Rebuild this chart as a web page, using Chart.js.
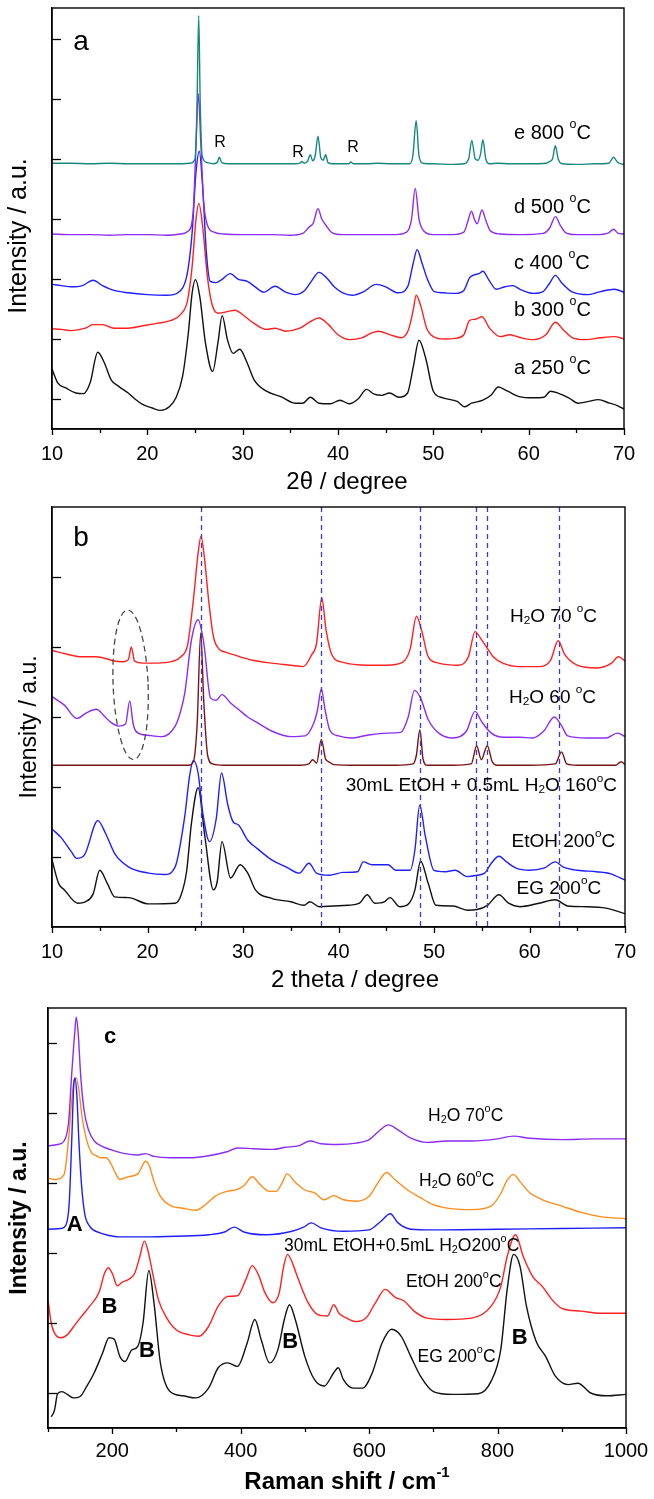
<!DOCTYPE html>
<html><head><meta charset="utf-8">
<script src="https://cdn.jsdelivr.net/npm/chart.js@4.4.1/dist/chart.umd.min.js"></script>
<style>
html,body{margin:0;padding:0;background:#fff;width:654px;height:1499px;overflow:hidden;position:relative}
canvas{position:absolute;left:0;display:block}
</style></head><body>
<canvas id="ca" width="654" height="500" style="top:0;width:654px;height:500px"></canvas>
<canvas id="cb" width="654" height="500" style="top:500px;width:654px;height:500px"></canvas>
<canvas id="cc" width="654" height="499" style="top:1000px;width:654px;height:499px"></canvas>
<script>
// ---------------- Panel a : XRD vs annealing temperature ----------------
const aTickX = [10, 20, 30, 40, 50, 60, 70];
const aTickY = [0, 1, 2, 3, 4, 5, 6];
const aNames = ['e 800 ^oC', 'd 500 ^oC', 'c 400 ^oC', 'b 300 ^oC', 'a 250 ^oC'];

const aX_e = [10,12,14,16,18,20,22,23.5,24.5,25.0,25.2,25.39,25.55,25.75,26.3,27.0,27.35,27.56,27.8,28.5,30,32,34,35.5,36.0,36.2,36.45,36.8,37.1,37.35,37.6,37.9,38.2,38.45,38.7,38.95,39.4,40.5,41.1,41.36,41.6,43,44.2,45.5,46.5,47.5,47.85,48.2,48.5,48.9,50,52,53.2,53.7,54.03,54.4,54.7,54.95,55.2,55.5,55.9,56.8,58,60,61.8,62.2,62.5,62.8,63.1,63.5,65,67,68.4,68.9,69.3,69.7,70];
const aY_e = [3.93,3.93,3.92,3.93,3.92,3.92,3.92,3.92,3.93,4.0,4.8,6.39,4.9,4.05,3.94,3.92,3.95,4.03,3.94,3.92,3.92,3.92,3.92,3.92,3.93,3.96,3.93,3.96,4.07,3.97,4.05,4.38,4.02,3.98,4.07,3.94,3.92,3.92,3.92,3.95,3.92,3.92,3.93,3.92,3.92,3.92,4.05,4.64,4.05,3.93,3.92,3.91,3.92,4.0,4.31,4.0,3.98,4.08,4.32,4.0,3.92,3.93,3.92,3.92,3.93,3.96,4.0,4.22,4.0,3.92,3.91,3.92,3.93,4.03,3.95,3.92,3.91];

const aX_d = [10,12,14,16,18,20,22,23.5,24.3,24.8,25.1,25.35,25.6,25.9,26.3,27,28,30,33,35,36.3,37.0,37.4,37.9,38.3,38.8,39.4,40.5,43,46,47.2,47.7,48.1,48.5,49,50,52,53.2,53.6,54.0,54.3,54.6,55.1,55.5,56,57,59,61.5,62.2,62.8,63.3,63.9,65,67,68.4,68.9,69.4,70];
const aY_d = [2.75,2.74,2.74,2.73,2.74,2.74,2.73,2.75,2.8,3.1,4.2,5.09,4.3,3.3,2.9,2.78,2.75,2.74,2.74,2.73,2.76,2.87,2.93,3.17,3.0,2.88,2.77,2.74,2.74,2.74,2.78,2.98,3.51,3.0,2.8,2.74,2.74,2.78,2.95,3.13,3.0,2.92,3.15,2.98,2.8,2.75,2.74,2.76,2.85,3.04,2.9,2.77,2.74,2.74,2.77,2.83,2.76,2.75];

const aX_c = [10,11,12,13.2,14.3,15.3,16.5,18,20,22,23.5,24.2,24.7,25.1,25.45,25.8,26.2,26.6,27.2,27.8,28.7,29.5,30.5,31.3,32.2,33.4,34.5,35.5,36.5,37.2,38.0,38.8,39.6,40.5,41.5,42.7,44.0,45.0,46.3,47.3,47.9,48.3,48.8,49.4,50.1,51,52.2,53.2,53.8,54.3,54.8,55.2,55.8,56.6,57.5,58.3,59.2,60.5,61.5,62.2,62.8,63.5,64.5,66.3,67.5,69,70];
const aY_c = [1.91,1.89,1.87,1.89,1.98,1.89,1.81,1.77,1.74,1.73,1.81,2.1,2.77,3.77,4.13,3.54,2.43,1.96,1.94,1.99,2.09,2.0,1.96,1.87,1.78,1.88,1.78,1.74,1.81,1.96,2.11,2.02,1.87,1.77,1.73,1.79,1.91,1.87,1.77,1.87,2.27,2.49,2.27,1.99,1.79,1.77,1.76,1.81,2.02,2.07,2.09,2.13,1.99,1.83,1.87,1.89,1.82,1.76,1.79,1.93,2.06,1.93,1.79,1.74,1.79,1.83,1.78];

const aX_b = [10,11,12,13.5,14.3,15.3,16.5,18,19.5,21,22.5,23.5,24.2,24.7,25.1,25.4,25.8,26.3,26.8,27.5,28.5,29.2,30.2,31.2,32.5,33.4,34.5,36,37.1,38.0,39,40,41.2,42.5,43.5,44.2,45.5,46.6,47.4,47.9,48.2,48.7,49.3,50,51.2,52.3,53.2,53.8,54.4,55.1,55.9,57,58,59.2,60.5,61.8,62.8,63.6,64.6,66,67.5,69,70];
const aY_b = [1.17,1.16,1.14,1.18,1.24,1.24,1.18,1.18,1.22,1.26,1.31,1.41,1.63,2.21,2.99,3.26,2.88,2.04,1.57,1.43,1.46,1.48,1.38,1.26,1.16,1.18,1.13,1.18,1.29,1.35,1.24,1.07,0.99,1.02,1.1,1.13,1.07,1.02,1.16,1.49,1.73,1.54,1.18,1.04,1.0,1.01,1.07,1.31,1.33,1.37,1.18,1.04,1.07,1.02,0.99,1.07,1.28,1.16,1.02,0.99,1.02,1.04,1.0];

const aX_a = [10,10.6,11.5,12.5,13.3,14,14.8,15.5,16.2,17,18,18.7,19.5,20.5,21.4,22.3,23,23.7,24.3,24.7,25.05,25.5,26.1,26.85,27.4,27.85,28.4,29.0,29.7,30.4,31.2,32.5,34,35.5,36.3,37.1,38,39.2,40.2,41.2,42.1,43.0,43.8,44.6,45.4,46.4,47.3,47.9,48.5,49.2,50,51,52.5,53.3,54,55.2,56.1,56.8,57.8,59,60.5,61.6,62.3,63.2,64.2,65.2,66.3,67.3,68.5,69.3,70];
const aY_a = [0.5,0.27,0.18,0.1,0.09,0.27,0.78,0.6,0.32,0.21,0.1,0,-0.09,-0.15,-0.19,-0.13,0.02,0.38,1.1,1.77,1.99,1.71,0.93,0.46,0.93,1.39,0.99,0.76,0.83,0.63,0.32,0.13,0.04,-0.07,-0.07,0.03,-0.07,-0.08,-0.02,-0.08,0,0.16,0.08,0.06,0.1,0.03,0.1,0.54,0.98,0.68,0.13,0.02,-0.04,-0.13,-0.07,-0.02,0.07,0.2,0.13,0.04,0.02,0.03,0.13,0.09,0.02,-0.07,-0.04,-0.01,-0.07,-0.11,-0.17];

// ---------------- Panel b : XRD vs synthesis solvent ----------------
const bTickX = [10, 20, 30, 40, 50, 60, 70];
const bTickY = [1, 2, 3, 4, 5];
const bRefLines = [25.65, 38.15, 48.5, 54.44, 55.58, 63.05];
const bNames = ['H_2O 70 ^oC', 'H_2O 60 ^oC', '30mL EtOH + 0.5mL H_2O 160^oC', 'EtOH 200^oC', 'EG 200^oC'];

const bX_w70 = [10,11.5,13,14.5,15.5,16.5,17.5,18.0,18.3,18.65,19.5,21,22.5,23.5,24.2,24.8,25.3,25.6,25.95,26.4,26.9,27.5,28.1,29,31,33,35,36.3,37.2,37.7,38.25,38.7,39.3,40.5,43,45,46.7,47.5,48.17,48.7,49.4,50.5,52.5,53.6,54.3,54.9,55.5,56.2,57.2,59,61,62.2,63.0,63.7,65,67,68.6,69.3,70];
const bY_w70 = [3.95,3.9,3.86,3.86,3.84,3.8,3.79,3.82,4.0,3.8,3.77,3.77,3.79,3.86,4.03,4.67,5.34,5.58,5.29,4.67,4.15,3.97,3.93,3.89,3.81,3.77,3.74,3.72,3.89,4.05,4.7,4.24,3.89,3.78,3.74,3.74,3.78,3.97,4.44,4.24,3.86,3.77,3.74,3.86,4.22,4.12,4.0,3.86,3.77,3.72,3.72,3.81,4.09,3.89,3.74,3.7,3.77,3.86,3.8];

const bX_w60 = [10,11.3,12.6,13.6,14.65,15.5,16.1,17.0,17.7,18.14,18.5,18.9,20,21.5,22.9,23.4,23.9,24.6,25.3,25.9,26.6,27.2,27.8,28.7,29.6,30.5,31.5,33,35,36.5,37.4,37.8,38.2,38.6,39.1,40,41.3,43,45,46.5,47.3,47.95,48.6,49.4,50.5,52,53.4,54.3,55.0,56,57.3,59,60.3,61.5,62.6,63.3,64,66,68,69.2,70];
const bY_w60 = [3.29,3.17,2.98,3.06,3.11,3.01,2.93,2.87,2.9,3.23,2.9,2.78,2.74,2.72,2.87,3.05,3.34,4.1,4.39,4.05,3.27,3.24,3.32,3.2,3.1,3.0,2.92,2.8,2.72,2.73,2.91,3.1,3.4,3.1,2.81,2.73,2.7,2.74,2.77,2.78,3.0,3.38,3.27,2.96,2.77,2.7,2.8,3.08,2.93,2.77,2.71,2.71,2.7,2.8,3.0,2.89,2.73,2.7,2.7,2.77,2.72];

const bX_mix = [10,14,18,22,24.3,24.8,25.2,25.57,25.9,26.3,26.8,28,32,36,36.9,37.3,37.7,38.2,38.65,39.0,39.5,42,46,47.8,48.15,48.52,48.85,49.3,52,53.9,54.47,54.95,55.58,56.1,56.6,60,62.7,63.35,63.9,65,69,69.6,70];
const bY_mix = [2.31,2.31,2.31,2.31,2.31,2.36,2.9,4.2,3.2,2.45,2.33,2.31,2.31,2.31,2.33,2.39,2.34,2.68,2.4,2.36,2.32,2.31,2.31,2.33,2.45,2.82,2.4,2.31,2.31,2.33,2.59,2.39,2.59,2.36,2.31,2.31,2.33,2.5,2.33,2.31,2.31,2.36,2.32];

const bX_et = [10,11,12,12.6,13.4,14.8,15.6,16.6,18.0,20.1,21.8,22.9,23.9,24.4,24.8,25.3,25.8,26.5,27.2,27.75,28.4,28.97,29.5,30.5,31.5,33,34.5,35.9,36.9,37.7,39,40.5,42,42.6,43.5,45.2,46,47.5,48,48.5,49.1,50,51.2,52.2,53.5,54.5,55.3,56,56.8,57.6,58.6,60,61.5,62.7,63.5,65,67,68.5,70];
const bY_et = [1.40,1.27,1.08,0.98,1.03,1.52,1.34,1.04,0.86,0.77,0.75,0.86,1.58,2.15,2.38,2.2,1.62,1.22,1.55,2.2,1.75,1.5,1.46,1.24,1.12,0.96,0.86,0.77,0.91,0.77,0.74,0.78,0.79,0.93,0.89,0.89,0.81,0.81,1.1,1.74,1.29,0.81,0.79,0.81,0.72,0.74,0.77,0.91,1.01,0.93,0.84,0.81,0.84,0.93,0.86,0.81,0.79,0.76,0.67];

const bX_eg = [10,10.7,11.3,12.7,13.5,14.3,15.0,15.8,16.57,18,20.1,22.9,23.5,24.1,24.6,25.3,26,26.9,27.3,27.8,28.7,29.7,30.5,31.3,33,35,36.4,37.0,38,39.5,41,42.2,43.0,43.8,44.8,45.4,46.4,47.4,48,48.6,49.4,50.2,52,53.5,54.5,55.6,56.8,57.8,59,61,62.7,64,66,68,70];
const bY_eg = [0.96,0.62,0.53,0.34,0.36,0.47,0.81,0.62,0.43,0.42,0.33,0.34,0.45,0.8,1.48,1.99,1.3,0.53,0.65,1.22,0.7,0.89,0.77,0.53,0.41,0.36,0.31,0.36,0.29,0.3,0.31,0.34,0.46,0.34,0.36,0.42,0.29,0.34,0.53,0.94,0.62,0.31,0.3,0.24,0.25,0.31,0.46,0.34,0.29,0.34,0.39,0.3,0.29,0.27,0.19];

// ---------------- Panel c : Raman ----------------
const cTickX = [200, 400, 600, 800, 1000];
const cTickY = [0, 1, 2, 3, 4, 5];
const cNames = ['H_2O 70^oC', 'H_2O 60^oC', '30mL EtOH+0.5mL H_2O200^oC', 'EtOH 200^oC', 'EG 200^oC'];

const cX_w70 = [100,115,125,132,137,142,144,147,151,156,163,172,185,200,220,240,252,265,290,320,350,380,395,420,450,470,490,508,525,550,580,600,615,630,645,665,690,720,760,800,825,850,900,950,1000];
const cY_w70 = [3.53,3.55,3.6,3.86,4.57,5.19,5.37,5.14,4.52,4.05,3.76,3.6,3.52,3.47,3.42,3.4,3.42,3.38,3.36,3.36,3.39,3.45,3.5,3.49,3.48,3.51,3.53,3.6,3.56,3.55,3.57,3.62,3.74,3.83,3.76,3.64,3.58,3.6,3.6,3.63,3.67,3.64,3.62,3.63,3.63];

const cX_w60 = [100,110,125,132,137,141,144,148,153,160,168,175,182,190,196,205,212,225,240,252,258,265,275,290,310,330,345,360,378,395,405,418,430,445,455,465,472,485,500,515,530,545,560,580,600,615,627,640,660,680,700,730,760,790,805,815,825,835,850,870,900,930,960,1000];
const cY_w60 = [3.07,3.05,3.12,3.62,4.19,4.48,4.5,4.33,3.95,3.62,3.43,3.39,3.36,3.36,3.31,3.14,3.05,3.09,3.13,3.31,3.24,3.02,2.81,2.68,2.64,2.61,2.69,2.81,2.88,2.91,2.96,3.09,2.98,2.88,2.88,3.01,3.13,3.01,2.9,2.86,2.76,2.82,2.76,2.74,2.81,3.02,3.15,3.05,2.9,2.79,2.69,2.63,2.62,2.67,2.85,3.04,3.12,3.02,2.86,2.76,2.67,2.58,2.52,2.49];

const cX_mix = [100,120,128,133,137,140,142,145,148,152,157,165,180,195,210,250,300,350,375,390,405,440,480,498,510,525,560,600,618,633,645,665,700,800,900,1000];
const cY_mix = [2.34,2.35,2.4,2.71,3.62,4.38,4.5,4.24,3.62,3.0,2.57,2.38,2.29,2.25,2.23,2.23,2.24,2.26,2.3,2.37,2.3,2.26,2.31,2.37,2.43,2.36,2.31,2.33,2.45,2.56,2.43,2.34,2.33,2.34,2.35,2.36];

const cX_et = [100,105,110,120,130,140,150,165,180,188,194,200,208,215,225,235,243,250,256,263,272,285,300,320,335,350,365,380,395,408,418,428,438,450,460,467,473,480,490,505,520,535,545,553,565,580,595,610,625,640,655,670,690,720,760,790,805,815,828,840,855,870,885,900,930,960,1000];
const cY_et = [1.33,1.0,0.86,0.79,0.83,0.95,1.07,1.24,1.45,1.71,1.79,1.71,1.53,1.58,1.62,1.71,1.95,2.17,2.02,1.71,1.33,1.07,0.9,0.83,0.81,0.95,1.24,1.38,1.39,1.62,1.82,1.68,1.43,1.29,1.43,1.81,1.98,1.87,1.62,1.29,1.12,1.1,1.26,1.14,1.07,1.02,1.07,1.29,1.48,1.37,1.31,1.17,1.07,1.05,1.07,1.24,1.52,1.95,2.26,1.95,1.66,1.52,1.33,1.21,1.17,1.14,1.14];

const cX_eg = [105,110,115,122,130,140,150,160,172,185,195,203,212,220,230,240,248,257,265,275,290,310,330,350,365,380,395,410,422,432,445,458,468,476,485,500,515,530,545,552,560,575,590,605,620,635,650,665,680,700,730,770,790,805,815,825,835,845,860,875,890,910,925,945,970,1000];
const cY_eg = [-0.34,-0.25,-0.01,0.02,-0.02,-0.07,-0.05,0.09,0.29,0.57,0.79,0.77,0.52,0.45,0.61,0.67,1.0,1.75,1.29,0.43,0.02,-0.04,-0.07,0.07,0.36,0.43,0.38,0.71,1.05,0.76,0.43,0.62,1.05,1.26,1.05,0.52,0.19,0.1,0.29,0.36,0.19,0.07,0.07,0.29,0.71,0.91,0.81,0.52,0.24,0.02,-0.02,-0.01,0.17,0.62,1.48,1.98,1.81,1.24,0.74,0.52,0.24,0.12,0.14,0,-0.04,-0.02];

// ---------------- helpers ----------------
const FAM = "'Liberation Sans', Arial, Helvetica, sans-serif";
const pts = (xs, ys) => xs.map((x, i) => ({ x: x, y: ys[i] }));
function ds(xs, ys, color) {
  return { data: pts(xs, ys), borderColor: color, borderWidth: 1.4, pointRadius: 0,
    fill: false, cubicInterpolationMode: 'monotone', spanGaps: true };
}
function parseRich(s) {
  const out = []; let i = 0;
  while (i < s.length) {
    const c = s[i];
    if ((c === '_' || c === '^') && i + 1 < s.length) {
      const k = c === '_' ? 'sub' : 'sup';
      if (s[i + 1] === '{') { const j = s.indexOf('}', i); out.push({ t: s.slice(i + 2, j), k }); i = j + 1; }
      else { out.push({ t: s[i + 1], k }); i += 2; }
    } else {
      let j = i; while (j < s.length && s[j] !== '_' && s[j] !== '^') j++;
      out.push({ t: s.slice(i, j), k: 'n' }); i = j;
    }
  }
  return out;
}
function drawRich(ctx, t) {
  const segs = parseRich(t.s);
  const f = sz => (t.bold ? 'bold ' : '') + sz + 'px ' + FAM;
  let w = 0;
  segs.forEach(g => { g.sz = g.k === 'n' ? t.size : t.size * 0.62; ctx.font = f(g.sz); g.w = ctx.measureText(g.t).width; w += g.w; });
  ctx.save();
  ctx.translate(t.x, t.y);
  if (t.rot) ctx.rotate(t.rot);
  let cx = t.align === 'left' ? 0 : t.align === 'right' ? -w : -w / 2;
  ctx.fillStyle = '#000'; ctx.textBaseline = 'middle'; ctx.textAlign = 'left';
  segs.forEach(g => {
    ctx.font = f(g.sz);
    const dy = g.k === 'sub' ? t.size * 0.22 : g.k === 'sup' ? -t.size * 0.4 : 0;
    ctx.fillText(g.t, cx, dy); cx += g.w;
  });
  ctx.restore();
}
function decorPlugin(spec) {
  return {
    id: 'decor',
    afterDatasetsDraw(chart) {
      const ctx = chart.ctx, a = chart.chartArea, xs = chart.scales.x, ys = chart.scales.y;
      ctx.save();
      if (spec.refLines) {
        ctx.strokeStyle = '#3b3bc9'; ctx.lineWidth = 1.3; ctx.setLineDash([5, 4]);
        spec.refLines.forEach(v => { const px = Math.round(xs.getPixelForValue(v)) + 0.5;
          ctx.beginPath(); ctx.moveTo(px, a.top); ctx.lineTo(px, a.bottom); ctx.stroke(); });
        ctx.setLineDash([]);
      }
      if (spec.ellipse) {
        const e = spec.ellipse;
        const cx = xs.getPixelForValue(e.x), cy = ys.getPixelForValue(e.y);
        const rx = Math.abs(xs.getPixelForValue(e.x + e.rx) - cx), ry = Math.abs(ys.getPixelForValue(e.y + e.ry) - cy);
        ctx.strokeStyle = '#4a4a4a'; ctx.lineWidth = 1.3; ctx.setLineDash([6, 4]);
        ctx.beginPath(); ctx.ellipse(cx, cy, rx, ry, -0.04, 0, Math.PI * 2); ctx.stroke(); ctx.setLineDash([]);
      }
      ctx.restore();
    },
    afterDraw(chart) {
      const ctx = chart.ctx, a = chart.chartArea, xs = chart.scales.x, ys = chart.scales.y;
      ctx.save();
      ctx.strokeStyle = '#000'; ctx.lineWidth = 1.4;
      ctx.strokeRect(a.left, a.top, a.right - a.left, a.bottom - a.top);
      ctx.lineWidth = 1.3;
      spec.yTicks.forEach(v => { const py = Math.round(ys.getPixelForValue(v)) + 0.5;
        ctx.beginPath(); ctx.moveTo(a.left, py); ctx.lineTo(a.left + 9, py); ctx.stroke(); });
      xs.ticks.forEach(tk => {
        const px = Math.round(xs.getPixelForValue(tk.value)) + 0.5;
        const len = spec.xLabels.includes(tk.value) ? 6 : 4;
        ctx.beginPath(); ctx.moveTo(px, a.bottom); ctx.lineTo(px, a.bottom + len); ctx.stroke();
      });
      ctx.restore();
      spec.texts.forEach(t => drawRich(ctx, t));
    }
  };
}
function makeChart(id, spec) {
  const c = document.getElementById(id);
  return new Chart(c.getContext('2d'), {
    type: 'line',
    data: { datasets: spec.datasets },
    options: {
      responsive: false, animation: false, devicePixelRatio: 1,
      layout: { padding: { top: spec.pad.top, right: spec.pad.right, left: 0, bottom: 0 } },
      plugins: { legend: { display: false }, tooltip: { enabled: false } },
      scales: {
        x: {
          type: 'linear', position: 'bottom', min: spec.xMin, max: spec.xMax,
          afterFit: s => { s.height = spec.xH; },
          ticks: { stepSize: spec.xStep, autoSkip: false, maxRotation: 0, padding: spec.tickPad, color: '#000',
            font: { family: FAM, size: spec.tickSize },
            callback: v => (spec.xLabels.includes(v) ? String(v) : '') },
          grid: { display: true, drawOnChartArea: false, drawTicks: true, tickLength: 6, tickWidth: 1, tickColor: 'rgba(0,0,0,0)' },
          border: { display: true, color: '#000', width: 1.4 }
        },
        y: {
          type: 'linear', min: spec.yMin, max: spec.yMax,
          afterFit: s => { s.width = spec.yW; },
          ticks: { display: false, stepSize: 1 },
          grid: { display: false, drawTicks: false },
          border: { display: true, color: '#000', width: 1.4 }
        }
      }
    },
    plugins: [decorPlugin(spec)]
  });
}

// ---------------- build ----------------
makeChart('ca', {
  xMin: 10, xMax: 70, xStep: 5, xLabels: aTickX, yMin: -0.5, yMax: 6.517, yTicks: aTickY,
  xH: 71, yW: 52, pad: { top: 8, right: 30 }, tickPad: 7, tickSize: 20,
  datasets: [ds(aX_e, aY_e, '#15877f'), ds(aX_d, aY_d, '#8b2cf5'), ds(aX_c, aY_c, '#1e1eff'), ds(aX_b, aY_b, '#ff2020'), ds(aX_a, aY_a, '#111111')],
  texts: [
    { s: 'a', x: 81, y: 42, size: 28 },
    { s: 'R', x: 220, y: 143, size: 16 }, { s: 'R', x: 298, y: 153, size: 16 }, { s: 'R', x: 353, y: 148, size: 16 },
    { s: aNames[0], x: 514, y: 133, size: 20, align: 'left' },
    { s: aNames[1], x: 514, y: 207, size: 20, align: 'left' },
    { s: aNames[2], x: 514, y: 263, size: 20, align: 'left' },
    { s: aNames[3], x: 514, y: 310, size: 20, align: 'left' },
    { s: aNames[4], x: 514, y: 368, size: 20, align: 'left' },
    { s: '2θ / degree', x: 347, y: 482, size: 24 },
    { s: 'Intensity / a.u.', x: 19, y: 236, size: 25, rot: -Math.PI / 2 }
  ]
});

makeChart('cb', {
  xMin: 10, xMax: 70, xStep: 5, xLabels: bTickX, yMin: 0, yMax: 6, yTicks: bTickY,
  xH: 73, yW: 52, pad: { top: 7, right: 29 }, tickPad: 7, tickSize: 20,
  refLines: bRefLines, ellipse: { x: 18.23, y: 3.46, rx: 1.83, ry: 1.07 },
  datasets: [ds(bX_mix, bY_mix, '#7a1414'), ds(bX_w70, bY_w70, '#ff2020'), ds(bX_w60, bY_w60, '#8b2cf5'), ds(bX_et, bY_et, '#1e1eff'), ds(bX_eg, bY_eg, '#111111')],
  texts: [
    { s: 'b', x: 81, y: 38.5, size: 28 },
    { s: bNames[0], x: 510, y: 116.7, size: 19, align: 'left' },
    { s: bNames[1], x: 509, y: 197.3, size: 19, align: 'left' },
    { s: bNames[2], x: 617, y: 286, size: 19, align: 'right' },
    { s: bNames[3], x: 511.5, y: 341.7, size: 19, align: 'left' },
    { s: bNames[4], x: 516.5, y: 388.3, size: 19, align: 'left' },
    { s: '2 theta / degree', x: 355, y: 480, size: 24 },
    { s: 'Intensity / a.u.', x: 30, y: 227, size: 23, rot: -Math.PI / 2 }
  ]
});

makeChart('cc', {
  xMin: 100, xMax: 1000, xStep: 100, xLabels: cTickX, yMin: -0.5, yMax: 5.5, yTicks: cTickY,
  xH: 71, yW: 48, pad: { top: 8, right: 28 }, tickPad: 5, tickSize: 20,
  datasets: [ds(cX_mix, cY_mix, '#1e1eff'), ds(cX_w70, cY_w70, '#8b2cf5'), ds(cX_w60, cY_w60, '#ff8c1a'), ds(cX_et, cY_et, '#ff2020'), ds(cX_eg, cY_eg, '#111111')],
  texts: [
    { s: 'c', x: 110, y: 36.5, size: 22, bold: true },
    { s: 'A', x: 74.7, y: 224.7, size: 22, bold: true },
    { s: 'B', x: 109.4, y: 306.7, size: 22, bold: true },
    { s: 'B', x: 147, y: 350.7, size: 22, bold: true },
    { s: 'B', x: 290.2, y: 342.3, size: 22, bold: true },
    { s: 'B', x: 519.8, y: 338.3, size: 22, bold: true },
    { s: cNames[0], x: 428, y: 116, size: 17.5, align: 'left' },
    { s: cNames[1], x: 419, y: 180.7, size: 17.5, align: 'left' },
    { s: cNames[2], x: 284, y: 246, size: 17.5, align: 'left' },
    { s: cNames[3], x: 406, y: 282.3, size: 17.5, align: 'left' },
    { s: cNames[4], x: 417.5, y: 356.7, size: 17.5, align: 'left' },
    { s: 'Raman shift / cm^{-1}', x: 347, y: 482, size: 24, bold: true },
    { s: 'Intensity / a.u.', x: 20, y: 218, size: 23, bold: true, rot: -Math.PI / 2 }
  ]
});
</script>
</body></html>
